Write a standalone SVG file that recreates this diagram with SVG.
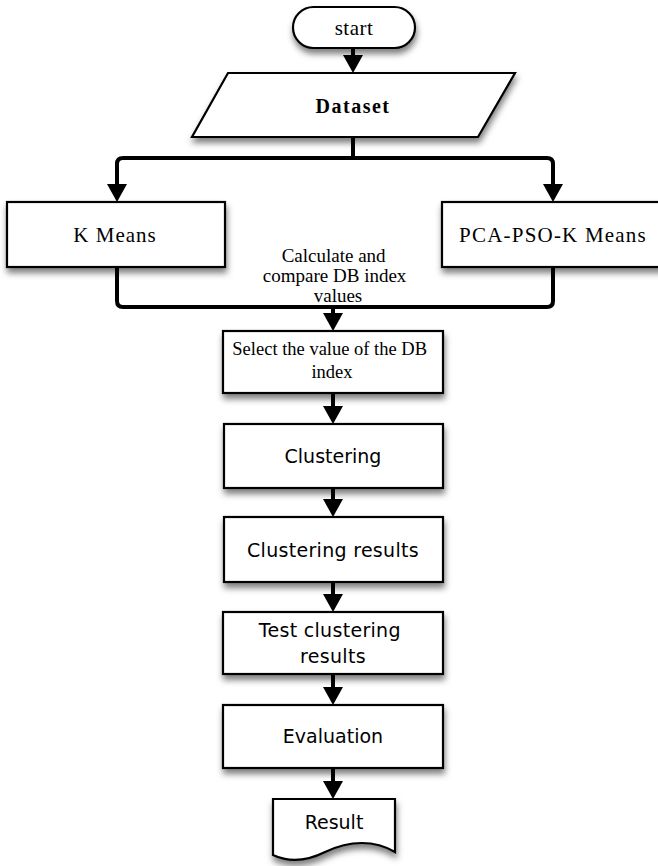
<svg xmlns="http://www.w3.org/2000/svg" width="658" height="866" viewBox="0 0 658 866">
<style>
.box{fill:#fff;stroke:#000;stroke-width:2.2;filter:url(#sh)}
.serif{font-family:"Liberation Serif","Times New Roman",serif;fill:#000}
.sans{font-family:"DejaVu Sans",Verdana,sans-serif;font-size:19px;fill:#000;text-anchor:middle}
.conn{fill:none;stroke:#000;stroke-width:4;stroke-linejoin:round}
</style>
<defs>
<filter id="sh" x="-10%" y="-20%" width="130%" height="160%">
<feDropShadow dx="1" dy="5" stdDeviation="3" flood-color="#000" flood-opacity="0.5"/>
</filter>
<marker id="ah" viewBox="0 0 18 20" markerWidth="18" markerHeight="20" refX="10" refY="10" orient="auto" markerUnits="userSpaceOnUse">
<path d="M0,0 L18,10 L0,20 Z" fill="#000"/>
</marker>
</defs>
<rect width="658" height="866" fill="#fff"/>

<g id="connectors">
<path class="conn" d="M353,48 V65" marker-end="url(#ah)"/>
<path class="conn" d="M353,137 V158"/>
<path class="conn" d="M335,158 H123 Q117,158 117,164 V194" marker-end="url(#ah)"/>
<path class="conn" d="M335,158 H547 Q553,158 553,164 V194" marker-end="url(#ah)"/>
<path class="conn" d="M117,267 V301 Q117,307 123,307 H547 Q553,307 553,301 V267"/>
<path class="conn" d="M333,307 V323" marker-end="url(#ah)"/>
<path class="conn" d="M333,393 V416" marker-end="url(#ah)"/>
<path class="conn" d="M333,488 V509" marker-end="url(#ah)"/>
<path class="conn" d="M333,582 V604" marker-end="url(#ah)"/>
<path class="conn" d="M333,674 V697" marker-end="url(#ah)"/>
<path class="conn" d="M333,768 V791" marker-end="url(#ah)"/>
</g>

<g id="start">
<rect class="box" x="293" y="7" width="122" height="41" rx="20.5"/>
<text class="serif" x="354" y="35" font-size="21" letter-spacing="0.5" text-anchor="middle">start</text>
</g>

<g id="dataset">
<path class="box" d="M228,73 H515 L478,137 H192 Z"/>
<text class="serif" x="353" y="113" font-size="20" font-weight="bold" letter-spacing="1.5" text-anchor="middle">Dataset</text>
</g>

<g id="kmeans">
<rect class="box" x="7" y="202" width="218" height="65"/>
<text class="serif" x="115" y="242" font-size="21" letter-spacing="1" text-anchor="middle">K Means</text>
</g>

<g id="pcapso">
<rect class="box" x="442" y="202" width="220" height="65"/>
<text class="serif" x="553" y="242" font-size="21" letter-spacing="1.2" text-anchor="middle">PCA-PSO-K Means</text>
</g>

<g id="calc-label">
<text class="serif" font-size="19" text-anchor="middle">
<tspan x="336" y="262">Calculate and</tspan>
<tspan x="337" y="282">compare DB index</tspan>
<tspan x="338" y="302">values</tspan>
</text>
</g>

<g id="select">
<rect class="box" x="223" y="331" width="220" height="62"/>
<text class="serif" font-size="18.5" text-anchor="middle">
<tspan x="332" y="355">Select the value of the DB</tspan>
<tspan x="332" y="378">index</tspan>
</text>
</g>

<g id="clustering">
<rect class="box" x="224" y="424" width="219" height="64"/>
<text class="sans" x="333" y="463">Clustering</text>
</g>

<g id="clustering-results">
<rect class="box" x="224" y="517" width="219" height="65"/>
<text class="sans" x="333" y="557" letter-spacing="0.3">Clustering results</text>
</g>

<g id="test">
<rect class="box" x="223" y="612" width="220" height="62"/>
<text class="sans" letter-spacing="0.3">
<tspan x="333" y="637">Test clustering</tspan>
<tspan x="333" y="663">results</tspan>
</text>
</g>

<g id="evaluation">
<rect class="box" x="223" y="705" width="220" height="63"/>
<text class="sans" x="333" y="743">Evaluation</text>
</g>

<g id="result">
<path class="box" d="M273,799 H395 V852 C375,840 350,840 325,852 C305,862 288,862 273,855 Z"/>
<text class="sans" x="334" y="829">Result</text>
</g>
</svg>
